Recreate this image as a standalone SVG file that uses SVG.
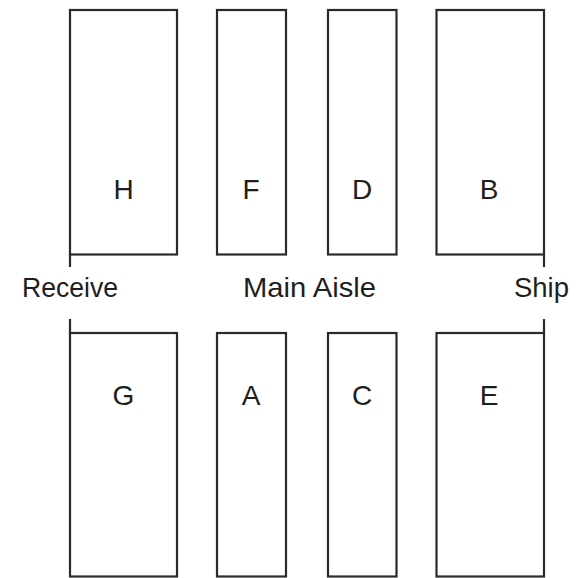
<svg xmlns="http://www.w3.org/2000/svg" width="580" height="578" viewBox="0 0 580 578">
<style>
.bay{fill:#fff;stroke:#2a2a2a;stroke-width:2.2}
.tick{stroke:#2a2a2a;stroke-width:2.2;fill:none}
.lbl{font-family:"Liberation Sans",Arial,sans-serif;font-size:28px;fill:#1e1e1e}
.mid{text-anchor:middle}
</style>
<rect width="580" height="578" fill="#fff"/>
<g id="H"><rect class="bay" x="70" y="10" width="107" height="244.5"/><text class="lbl mid" x="123.5" y="199">H</text></g>
<g id="F"><rect class="bay" x="217" y="10" width="69" height="244.5"/><text class="lbl mid" x="251" y="199">F</text></g>
<g id="D"><rect class="bay" x="328" y="10" width="68.5" height="244.5"/><text class="lbl mid" x="362" y="199">D</text></g>
<g id="B"><rect class="bay" x="436.5" y="10" width="107.5" height="244.5"/><text class="lbl mid" x="489" y="199">B</text></g>
<g id="G"><rect class="bay" x="70" y="333" width="107" height="243.5"/><text class="lbl mid" x="123.5" y="405">G</text></g>
<g id="A"><rect class="bay" x="217" y="333" width="69" height="243.5"/><text class="lbl mid" x="251" y="405">A</text></g>
<g id="C"><rect class="bay" x="328" y="333" width="68.5" height="243.5"/><text class="lbl mid" x="362" y="405">C</text></g>
<g id="E"><rect class="bay" x="436.5" y="333" width="107.5" height="243.5"/><text class="lbl mid" x="489" y="405">E</text></g>
<g id="connectors">
<line class="tick" x1="70" y1="254" x2="70" y2="267"/>
<line class="tick" x1="70" y1="319" x2="70" y2="334"/>
<line class="tick" x1="544" y1="254" x2="544" y2="267"/>
<line class="tick" x1="544" y1="319" x2="544" y2="334"/>
</g>
<g id="labels">
<text class="lbl" x="22" y="297" textLength="96" lengthAdjust="spacingAndGlyphs">Receive</text>
<text class="lbl" x="243" y="297" textLength="133" lengthAdjust="spacingAndGlyphs">Main Aisle</text>
<text class="lbl" x="514" y="297" textLength="55" lengthAdjust="spacingAndGlyphs">Ship</text>
</g>
</svg>
